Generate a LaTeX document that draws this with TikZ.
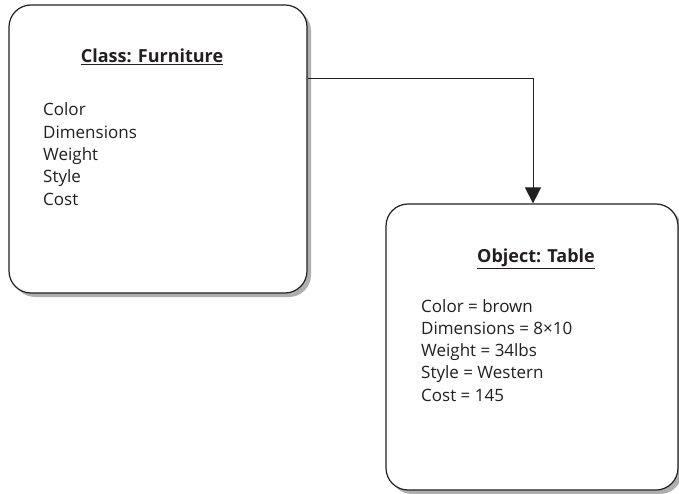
\documentclass[tikz,border=0pt]{standalone}
\usepackage{fontspec}
\setmainfont{Open Sans}
\usetikzlibrary{arrows.meta,shadows}
\definecolor{ink}{RGB}{35,31,32}
\definecolor{shade}{RGB}{175,175,175}

\begin{document}
\begin{tikzpicture}[x=1pt, y=-1pt,
  card/.style={draw=ink, line width=1.2pt, fill=white, rounded corners=22pt, inner sep=0pt,
    drop shadow={shadow xshift=4pt, shadow yshift=-4pt, fill=shade, opacity=1}},
  heading/.style={anchor=base, font=\fontsize{18}{20}\selectfont\bfseries, text=ink, inner sep=0pt},
  attrs/.style={anchor=base west, align=left, font=\fontsize{17}{22.3}\selectfont, text=ink, inner sep=0pt},
  link/.style={draw=ink, line width=1pt, -{Triangle[width=16pt,length=16pt]}},
]
  \useasboundingbox (0,0) rectangle (679,494);
  % the class and the object
  \node[card, minimum width=298pt, minimum height=288pt] (furniture) at (158,149) {};
  \node[card, minimum width=292pt, minimum height=286pt] (table) at (532,347) {};

  \node[heading] (furnitureTitle) at (152,63) {\underline{Class: Furniture}};
  % base anchor sits on the last line
  \node[attrs] (furnitureAttrs) at (43,205.2) {Color\\ Dimensions\\ Weight\\ Style\\ Cost};

  \node[heading] (tableTitle) at (536,262) {\underline{Object: Table}};
  \node[attrs] (tableAttrs) at (421,401.2) {Color = brown\\ Dimensions = 8×10\\ Weight = 34lbs\\ Style = Western\\ Cost = 145};

  % instance link
  \coordinate (bend) at (533,79);
  \draw[link] (furniture.east |- bend) -- (bend) -- (bend |- table.north);
\end{tikzpicture}
\end{document}
